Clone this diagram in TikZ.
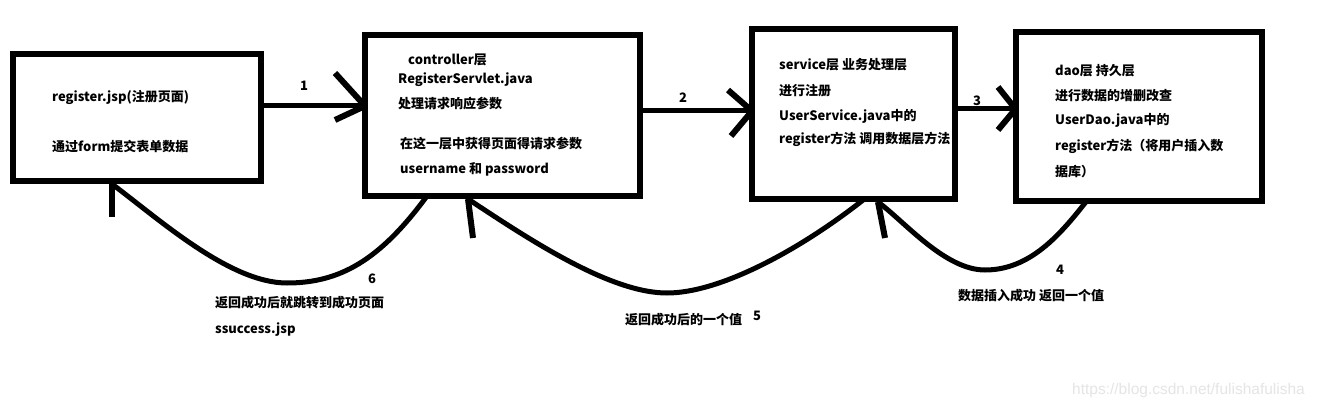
\documentclass[tikz,border=0pt]{standalone}
\usepackage{fontspec}
\setmainfont{Noto Sans CJK SC}
\newfontfamily\wmfont{Liberation Sans}
\begin{document}
\begin{tikzpicture}[x=1pt,y=-1pt,
  box/.style={draw=black,line width=6pt,outer sep=0pt,inner sep=0pt},
  shaft/.style={draw=black,line width=5pt},
  headline/.style={draw=black,line width=6pt,line join=round},
  curveline/.style={draw=black,line width=5pt,line join=round},
  txt/.style={anchor=west,inner sep=0pt,text height=11pt,text depth=2pt,font=\fontsize{13}{15}\selectfont\bfseries},
  num/.style={anchor=center,inner sep=0pt,font=\fontsize{13}{15}\selectfont\bfseries},
  wm/.style={anchor=west,inner sep=0pt,text=black!10,font=\wmfont\fontsize{15.5}{17}\selectfont}]
\useasboundingbox[fill=white] (0,0) rectangle (1319,409);

% boxes
\node[box,minimum width=248pt,minimum height=126pt] (b1) at (137,117.5) {};
\node[box,minimum width=275pt,minimum height=160.5pt] (b2) at (502.5,115.75) {};
\node[box,minimum width=203pt,minimum height=169pt] (b3) at (853.5,114) {};
\node[box,minimum width=246pt,minimum height=168pt] (b4) at (1138.5,116.5) {};

% box texts
\node[txt] (t1a) at (52,97) {register.jsp(注册页面)};
\node[txt] (t1b) at (52,147) {通过form提交表单数据};

\node[txt] (t2a) at (408,60) {controller层};
\node[txt] (t2b) at (398,79) {RegisterServlet.java};
\node[txt] (t2c) at (398,104) {处理请求响应参数};
\node[txt] (t2d) at (400,144) {在这一层中获得页面得请求参数};
\node[txt] (t2e) at (400,169) {username 和 password};

\node[txt] (t3a) at (779,65) {service层 业务处理层};
\node[txt] (t3b) at (779,91) {进行注册};
\node[txt] (t3c) at (779,116) {UserService.java中的};
\node[txt] (t3d) at (779,139) {register方法 调用数据层方法};

\node[txt] (t4a) at (1055,71) {dao层 持久层};
\node[txt] (t4b) at (1055,96) {进行数据的增删改查};
\node[txt] (t4c) at (1055,120) {UserDao.java中的};
\node[txt] (t4d) at (1055,146) {register方法（将用户插入数};
\node[txt] (t4e) at (1055,172) {据库）};

% forward arrows
\draw[shaft] (b1.east |- 0,106) -- (b2.west |- 0,106);
\draw[headline] (335,73) -- (b2.west |- 0,106) -- (335,120);
\node[num] (n1) at (304,86) {1};

\draw[shaft] (b2.east |- 0,111) -- (b3.west |- 0,111);
\draw[headline] (728,90) -- (b3.west |- 0,111) -- (731,136);
\node[num] (n2) at (683,98) {2};

\draw[shaft] (b3.east |- 0,109) -- (b4.west |- 0,109);
\draw[headline] (998,87) -- (b4.west |- 0,109) -- (998,130);
\node[num] (n3) at (977,101) {3};

% return curves
\coordinate (tip6) at (112,184);
\coordinate (tip5) at (468,199);
\coordinate (tip4) at (878,202);

\draw[curveline] (b2.south -| 427,0) .. controls (380,260) and (340,283) .. (287,283)
  .. controls (230,283) and (160,220) .. (tip6);
\draw[headline] (tip6) -- (112,217);

\draw[curveline] (b3.south -| 865,0) .. controls (800,250) and (720,293) .. (667,293)
  .. controls (610,293) and (530,240) .. (tip5);
\draw[headline] (tip5) -- (473,238);

\draw[curveline] (b4.south -| 1087,0) .. controls (1060,235) and (1030,270) .. (985,270)
  .. controls (945,270) and (905,222) .. (tip4);
\draw[headline] (tip4) -- (885,238);

% return labels
\node[num] (n6) at (372,279) {6};
\node[txt] (l6a) at (215,303) {返回成功后就跳转到成功页面};
\node[txt] (l6b) at (215,329) {ssuccess.jsp};

\node[num] (n5) at (757,316) {5};
\node[txt] (l5) at (625,320) {返回成功后的一个值};

\node[num] (n4) at (1060,270) {4};
\node[txt] (l4) at (958,296) {数据插入成功 返回一个值};

% watermark
\node[wm] (wmark) at (1072,390) {https://blog.csdn.net/fulishafulisha};
\end{tikzpicture}
\end{document}
